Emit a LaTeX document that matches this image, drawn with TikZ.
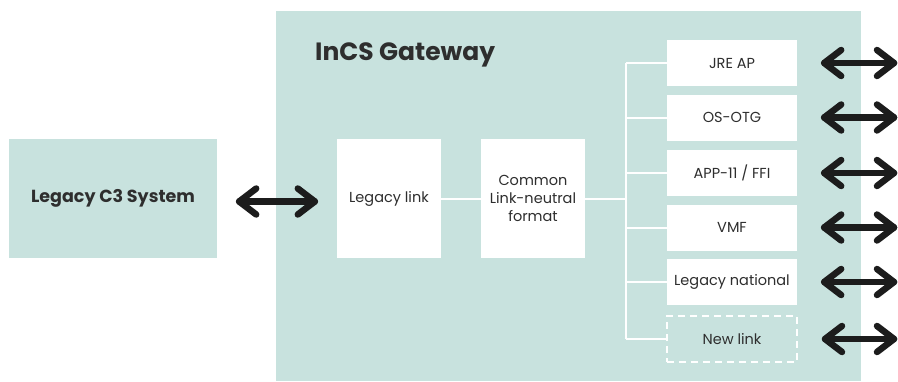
\documentclass[tikz,border=0pt]{standalone}
\usepackage{fontspec}
\setmainfont{Poppins}
\usetikzlibrary{calc}
\definecolor{gwteal}{HTML}{C8E2DE}
\definecolor{txt}{HTML}{2E2E2E}
\definecolor{arrowblk}{HTML}{1C1C1C}
\tikzset{
  wbox/.style={fill=white, inner sep=0pt, text=txt, align=center, font=\fontsize{14.5}{18}\selectfont},
  sidebox/.style={wbox, minimum width=104pt, minimum height=119pt},
  linkbox/.style={wbox, minimum width=130pt, minimum height=46pt},
  newbox/.style={linkbox, fill=none, draw=white, line width=2pt, dash pattern=on 7pt off 5pt},
  bus/.style={draw=white, line width=2pt},
  arr/.style={draw=arrowblk, line width=6.5pt, line cap=round, line join=round},
}
\newcommand\dblarrow[2]{%
  \draw[arr] (#1) -- (#2);
  \draw[arr] ($(#1)+(17,-13)$) -- (#1) -- ($(#1)+(17,13)$);
  \draw[arr] ($(#2)+(-17,-13)$) -- (#2) -- ($(#2)+(-17,13)$);
}
\begin{document}
\begin{tikzpicture}[x=1pt,y=-1pt]
\useasboundingbox (0,0) rectangle (898,381);
\fill[gwteal] (276,11) rectangle (861,381);
\node[anchor=west, text=txt, font=\fontsize{25}{30}\bfseries, inner sep=0pt] (title) at (315,55) {InCS Gateway};
\node[fill=gwteal, minimum width=208pt, minimum height=119pt, text=txt, font=\fontsize{17.5}{21}\bfseries] (c3) at (113,198.5) {Legacy C3 System};
\node[sidebox] (legacy) at (389,198.5) {Legacy link};
\node[sidebox] (common) at (533,198.5) {Common\\Link-neutral\\format};
\node[linkbox] (jre) at (732,63) {JRE AP};
\node[linkbox] (os) at (732,117.5) {OS-OTG};
\node[linkbox] (app) at (732,173) {APP-11 / FFI};
\node[linkbox] (vmf) at (732,227.5) {VMF};
\node[linkbox] (nat) at (732,282) {Legacy national};
\node[newbox] (new) at (732,339) {New link};
\coordinate (busmid) at (626,198.5);
\draw[bus] (legacy.east) -- (common.west);
\draw[bus] (common.east) -- (busmid);
\draw[bus] (busmid |- jre.west) -- (busmid |- new.west);
\foreach \n in {jre,os,app,vmf,nat,new} {
  \draw[bus] (busmid |- \n.west) -- (\n.west);
}
\coordinate (la) at ($(c3.east)+(22,3)$);
\coordinate (lb) at ($(legacy.west)+(-22,3)$);
\dblarrow{la}{lb}
\foreach \n in {jre,os,app,vmf,nat,new} {
  \coordinate (\n L) at ($(\n.east)+(27,0)$);
  \coordinate (\n R) at (894,0 |- \n.east);
  \dblarrow{\n L}{\n R}
}
\end{tikzpicture}
\end{document}
